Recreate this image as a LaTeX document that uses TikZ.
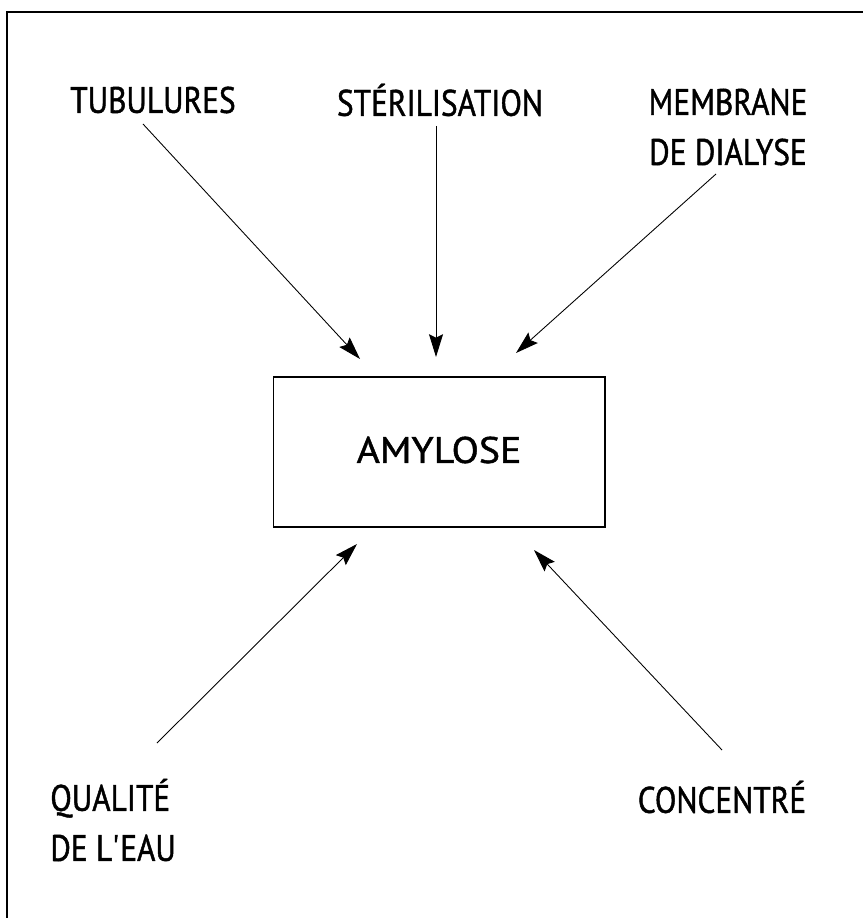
\documentclass[tikz,border=0pt]{standalone}
\usepackage{fontspec}
\setmainfont{PT Sans}[FakeStretch=0.85, FakeBold=1.2]
\newfontfamily\boxfont{PT Sans}[FakeStretch=1.08, FakeBold=1.2]
\usetikzlibrary{arrows.meta}

\begin{document}
\begin{tikzpicture}[x=0.02cm, y=-0.02cm,
		lbl/.style={inner sep=0pt, font=\fontsize{21}{28.5}\selectfont, align=center},
		src/.style={draw=black, line width=0.5pt, -{Stealth[length=13pt, width=8pt, inset=2pt]}},
		box/.style={draw=black, line width=0.6pt, minimum width=6.64cm, minimum height=3cm}]
		\useasboundingbox (0,0) rectangle (863,918);
		\draw[line width=0.8pt] (7,918) -- (7,12) -- (863,12);

		\node[lbl] (tub) at (153,100) {TUBULURES};
		\node[lbl] (ster) at (440,100) {STÉRILISATION};
		\node[lbl] (memb) at (728,127) {MEMBRANE\\DE DIALYSE};

		\node[box] (amy) at (439,452) {};
		\node[lbl, font=\fontsize{21}{28.5}\boxfont] (amylabel) at (439,450) {AMYLOSE};

		\node[lbl, align=left, anchor=west] (qual) at (50,820) {QUALITÉ\\DE L\textquotesingle EAU};
		\node[lbl] (conc) at (722,797) {CONCENTRÉ};

		% start and tip of each arrow
		\coordinate (tub0) at (143,124);   \coordinate (tub1) at (360,359);
		\coordinate (ster0) at (436,126);  \coordinate (ster1) at (436,357);
		\coordinate (memb0) at (716,174);  \coordinate (memb1) at (516,353);
		\coordinate (qual0) at (157,743);  \coordinate (qual1) at (357,544);
		\coordinate (conc0) at (722,750);  \coordinate (conc1) at (534,550);

		\foreach \s in {tub, ster, memb, qual, conc}
			\draw[src] (\s0) -- (\s1);
	\end{tikzpicture}
\end{document}
